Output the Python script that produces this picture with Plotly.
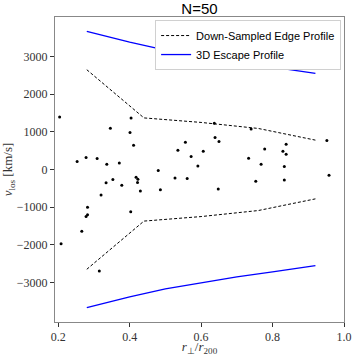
import plotly.graph_objects as go

# scatter galaxies (r_perp / r_200, v_los [km/s])
pts_x = [0.204, 0.404, 0.346, 0.401, 0.411, 0.253, 0.278, 0.309, 0.336, 0.371,
         0.418, 0.423, 0.422, 0.353, 0.334, 0.378, 0.430, 0.320, 0.637, 0.639,
         0.650, 0.556, 0.535, 0.606, 0.572, 0.733, 0.591, 0.480, 0.527, 0.561,
         0.486, 0.648, 0.740, 0.952, 0.838, 0.778, 0.829, 0.838, 0.768, 0.833,
         0.958, 0.753, 0.833, 0.282, 0.403, 0.282, 0.278, 0.266, 0.208, 0.315]
pts_y = [1395, 1369, 1095, 981, 645, 212, 318, 292, 141, 175,
         -204, -257, -345, -265, -355, -416, -568, -674, 1228, 849,
         743, 724, 512, 485, 345, 300, 95, -27, -223, -239,
         -541, -515, 1077, 769, 671, 547, 485, 406, 141, 80,
         -151, -310, -276, -1000, -1124, -1204, -1247, -1637, -1973, -2698]

# down-sampled edge profile
edge_x = [0.28, 0.44, 0.60, 0.76, 0.92]
edge_y = [2650, 1370, 1250, 1090, 780]

# 3D escape profile
esc_x = [0.28, 0.40, 0.50, 0.60, 0.70, 0.80, 0.92]
esc_y = [3670, 3380, 3170, 3000, 2850, 2720, 2550]

x_ticks = [0.2, 0.4, 0.6, 0.8, 1.0]
x_tick_text = ["0.2", "0.4", "0.6", "0.8", "1.0"]
y_ticks = [-3000, -2000, -1000, 0, 1000, 2000, 3000]
y_tick_text = ["\u22123000", "\u22122000", "\u22121000", "0", "1000", "2000", "3000"]

fig = go.Figure()
fig.add_trace(go.Scatter(x=pts_x, y=pts_y, mode="markers",
                         marker=dict(color="black", size=3), showlegend=False))
fig.add_trace(go.Scatter(x=edge_x, y=edge_y, mode="lines",
                         line=dict(color="black", width=1, dash="3px,2px"),
                         name="Down-Sampled Edge Profile"))
fig.add_trace(go.Scatter(x=edge_x, y=[-v for v in edge_y], mode="lines",
                         line=dict(color="black", width=1, dash="3px,2px"),
                         showlegend=False))
fig.add_trace(go.Scatter(x=esc_x, y=esc_y, mode="lines",
                         line=dict(color="blue", width=1.3),
                         name="3D Escape Profile"))
fig.add_trace(go.Scatter(x=esc_x, y=[-v for v in esc_y], mode="lines",
                         line=dict(color="blue", width=1.3),
                         showlegend=False))

tick_font = dict(family="Liberation Serif", size=12, color="#333")
fig.update_layout(
    width=356, height=356,
    margin=dict(l=55, r=12, t=17, b=34, autoexpand=False),
    paper_bgcolor="white", plot_bgcolor="white",
    title=dict(text="N=50", xref="paper", x=0.5, xanchor="center",
               yref="container", y=0.975, yanchor="middle",
               font=dict(family="Liberation Sans", size=15, color="black")),
    legend=dict(x=0.99, y=0.99, xanchor="right", yanchor="top",
                bgcolor="white", bordercolor="#d0d0d0", borderwidth=1,
                font=dict(family="Liberation Sans", size=11, color="black"),
                tracegroupgap=0, itemwidth=30),
    showlegend=True,
)
fig.update_xaxes(range=[0.191, 1.0], tickvals=x_ticks, ticktext=x_tick_text,
                 ticks="outside", ticklen=4, tickcolor="#333", automargin=False,
                 showline=True, linecolor="#888", linewidth=1, mirror=True,
                 showgrid=False, zeroline=False, tickfont=tick_font,
                 title=dict(text="<i>r</i><sub>\u22a5</sub>/<i>r</i><sub>200</sub>",
                            font=dict(family="Liberation Serif", size=13, color="#333"),
                            standoff=2))
fig.update_yaxes(range=[-4050, 4050], tickvals=y_ticks, ticktext=y_tick_text,
                 ticks="outside", ticklen=4, tickcolor="#333", automargin=False,
                 showline=True, linecolor="#888", linewidth=1, mirror=True,
                 showgrid=False, zeroline=False, tickfont=tick_font,
                 title=dict(text="<i>v</i><sub>los</sub> [km/s]",
                            font=dict(family="Liberation Serif", size=13, color="#333"),
                            standoff=2))

fig.write_html("out.html",
               config={"displayModeBar": False},
               post_script="document.body.style.margin='0';document.body.style.padding='0';")
